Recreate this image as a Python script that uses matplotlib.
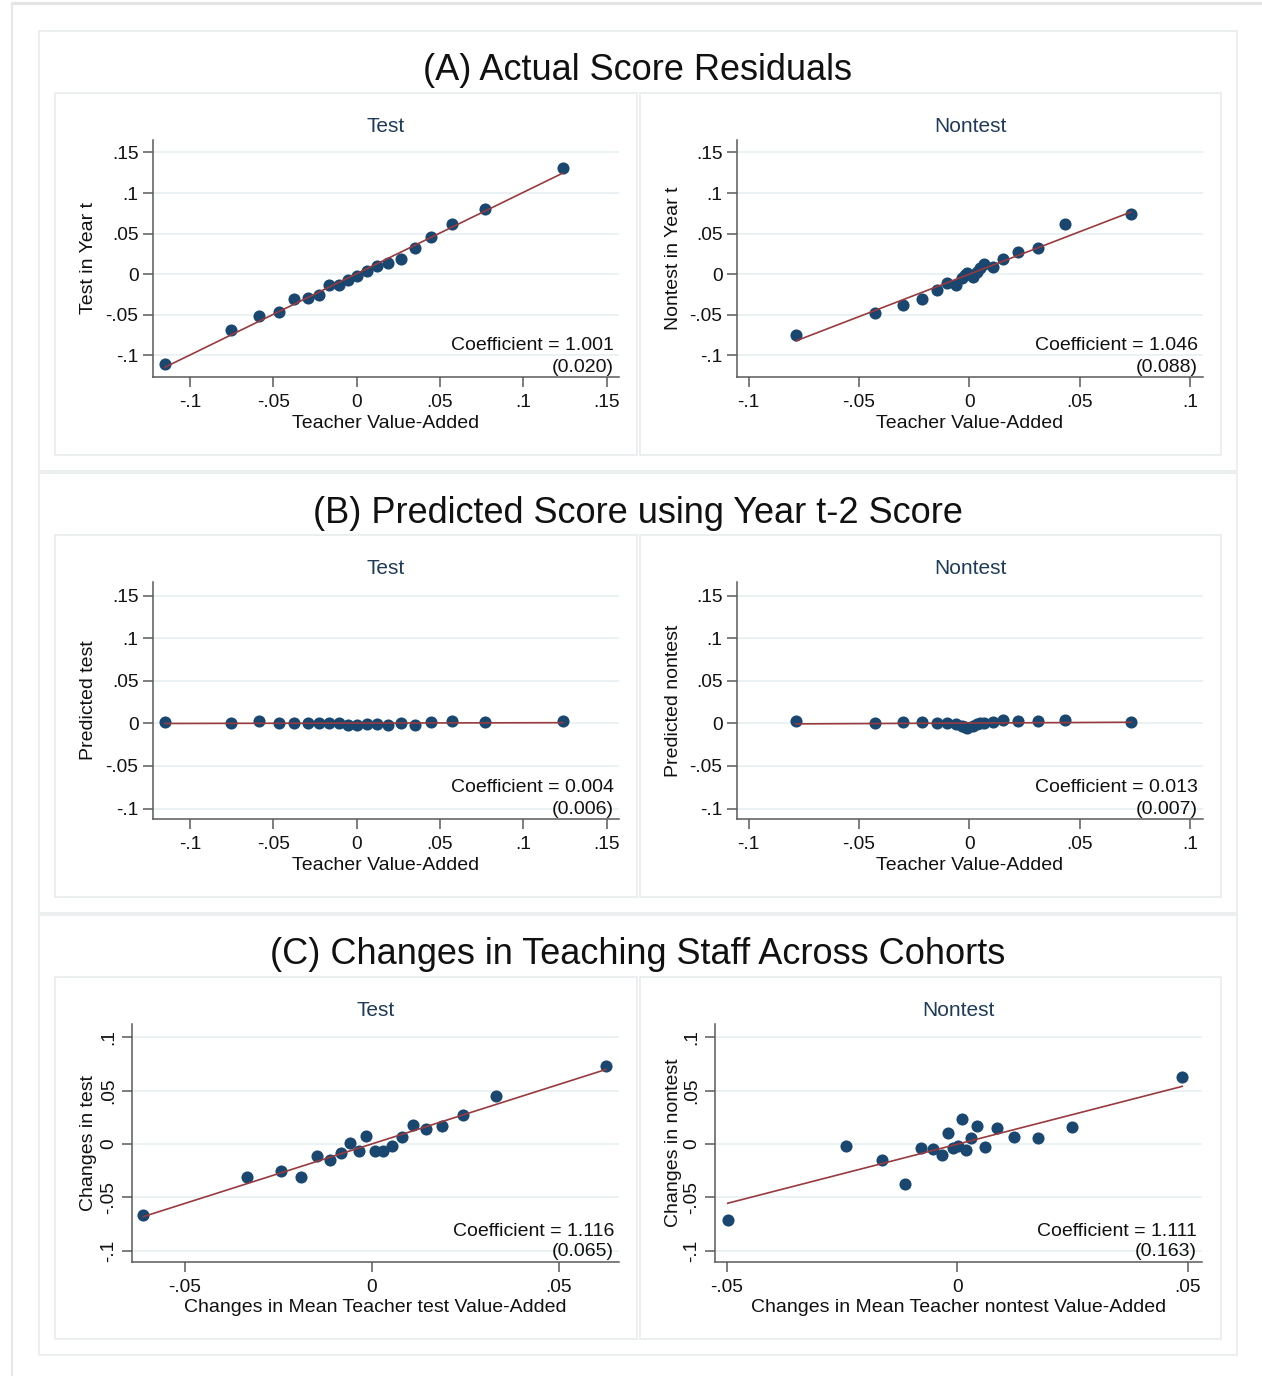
import numpy as np
import matplotlib
matplotlib.use("Agg")
import matplotlib.pyplot as plt
from matplotlib.patches import Rectangle
from matplotlib.lines import Line2D

plt.rcParams['font.family'] = ['Liberation Sans', 'DejaVu Sans']

# ---- binned teacher value-added (x) and outcomes (y) ----
va_test = [-0.1151, -0.0756, -0.0586, -0.0464, -0.0374, -0.0294, -0.0224, -0.0164,
           -0.0104, -0.0050, 0.0004, 0.0060, 0.0120, 0.0190, 0.0264, 0.0350,
           0.0446, 0.0570, 0.0770, 0.1236]
actual_test = [-0.1108, -0.0690, -0.0517, -0.0464, -0.0300, -0.0292, -0.0259, -0.0136,
               -0.0128, -0.0070, -0.0021, 0.0041, 0.0102, 0.0143, 0.0192, 0.0320,
               0.0456, 0.0619, 0.0808, 0.1309]
predicted_test = [0.0012, 0.0004, 0.0027, 0.0000, 0.0000, 0.0000, 0.0000, 0.0000,
                  0.0000, -0.0020, -0.0016, -0.0008, -0.0004, -0.0016, 0.0004, -0.0016,
                  0.0012, 0.0027, 0.0012, 0.0027]

va_nontest = [-0.0785, -0.0427, -0.0299, -0.0213, -0.0148, -0.0100, -0.0060, -0.0035,
              -0.0019, -0.0009, 0.0015, 0.0036, 0.0048, 0.0067, 0.0106, 0.0154,
              0.0221, 0.0313, 0.0433, 0.0732]
actual_nontest = [-0.0744, -0.0480, -0.0382, -0.0308, -0.0193, -0.0103, -0.0136, -0.0049,
                  -0.0009, 0.0012, -0.0029, 0.0032, 0.0074, 0.0123, 0.0094, 0.0192,
                  0.0275, 0.0324, 0.0619, 0.0746]
predicted_nontest = [0.0027, 0.0008, 0.0012, 0.0012, 0.0008, 0.0008, -0.0012, -0.0031,
                     -0.0047, -0.0059, -0.0031, -0.0012, 0.0000, 0.0008, 0.0012, 0.0039,
                     0.0027, 0.0031, 0.0039, 0.0020]

dva_test = [-0.0610, -0.0332, -0.0242, -0.0189, -0.0145, -0.0111, -0.0081, -0.0058,
            -0.0034, -0.0014, 0.0009, 0.0031, 0.0055, 0.0080, 0.0110, 0.0145,
            0.0188, 0.0243, 0.0332, 0.0626]
dscore_test = [-0.0665, -0.0306, -0.0253, -0.0309, -0.0109, -0.0147, -0.0087, 0.0012,
               -0.0066, 0.0075, -0.0066, -0.0066, -0.0019, 0.0069, 0.0178, 0.0141,
               0.0172, 0.0272, 0.0447, 0.0734]

dva_nontest = [-0.0498, -0.0241, -0.0163, -0.0113, -0.0078, -0.0052, -0.0033, -0.0021,
               -0.0009, 0.0001, 0.0010, 0.0019, 0.0030, 0.0042, 0.0061, 0.0087,
               0.0123, 0.0174, 0.0248, 0.0488]
dscore_nontest = [-0.0712, -0.0019, -0.0150, -0.0378, -0.0034, -0.0044, -0.0103, 0.0100,
                  -0.0034, -0.0019, 0.0234, -0.0056, 0.0053, 0.0169, -0.0025, 0.0153,
                  0.0063, 0.0059, 0.0162, 0.0625]

# slope estimates and standard errors
coefs = {"A_test": 1.001, "A_nontest": 1.046, "B_test": 0.004, "B_nontest": 0.013,
         "C_test": 1.116, "C_nontest": 1.111}
ses = {"A_test": 0.020, "A_nontest": 0.088, "B_test": 0.006, "B_nontest": 0.007,
       "C_test": 0.065, "C_nontest": 0.163}

section_titles = ["(A) Actual Score Residuals",
                  "(B) Predicted Score using Year t-2 Score",
                  "(C) Changes in Teaching Staff Across Cohorts"]

ticks_ab_y = [-0.1, -0.05, 0, 0.05, 0.1, 0.15]
labels_ab_y = ["-.1", "-.05", "0", ".05", ".1", ".15"]
ticks_test_x = [-0.1, -0.05, 0, 0.05, 0.1, 0.15]
labels_test_x = ["-.1", "-.05", "0", ".05", ".1", ".15"]
ticks_nontest_x = [-0.1, -0.05, 0, 0.05, 0.1]
labels_nontest_x = ["-.1", "-.05", "0", ".05", ".1"]
ticks_c_y = [-0.1, -0.05, 0, 0.05, 0.1]
labels_c_y = ["-.1", "-.05", "0", ".05", ".1"]
ticks_c_x = [-0.05, 0, 0.05]
labels_c_x = ["-.05", "0", ".05"]

NAVY = "#1a476f"
MAROON = "#983a3e"
GRID = "#e8f0f1"
AXIS = "#5a5a5a"
SUBTITLE = "#1f3b5a"
FRAME = "#ebeeee"

W, H = 1262, 1376
DPI = 100
fig = plt.figure(figsize=(W / DPI, H / DPI), dpi=DPI, facecolor="white")


def fx(px):
    return px / W


def fy(py):
    return 1 - py / H


def frame(l, t, r, b, color=FRAME, lw=1.3):
    fig.add_artist(Rectangle((fx(l), fy(b)), fx(r) - fx(l), fy(t) - fy(b),
                             transform=fig.transFigure, fill=False,
                             edgecolor=color, linewidth=lw, zorder=0))


def ftext(px, py, s, **kw):
    fig.text(fx(px), fy(py), s, **kw)


def panel(x, y, key, box, xmap, ymap, xt, xtl, yt, ytl, subtitle, xlabel,
          ylabel, ylabel_x, rotate_y=False):
    l, t, r, b = box
    x0, sx = xmap
    y0, sy = ymap
    ax = fig.add_axes([fx(l), fy(b), fx(r) - fx(l), fy(t) - fy(b)])
    ax.set_facecolor("none")
    ax.set_xlim((l - x0) / sx, (r - x0) / sx)
    ax.set_ylim((y0 - b) / sy, (y0 - t) / sy)

    xs = np.asarray(x)
    ys = np.asarray(y)
    coef = coefs[key]
    icpt = ys.mean() - coef * xs.mean()
    xl = np.array([xs.min(), xs.max()])
    ax.scatter(xs, ys, s=76, color=NAVY, linewidths=0, zorder=3)
    ax.plot(xl, icpt + coef * xl, color=MAROON, lw=1.2, zorder=4)

    ax.set_xticks(xt)
    ax.set_xticklabels(xtl)
    ax.set_yticks(yt)
    if rotate_y:
        ax.set_yticklabels(ytl, rotation=90, va="center", ha="right")
    else:
        ax.set_yticklabels(ytl)
    ax.tick_params(axis="both", length=7, width=1.1, color=AXIS,
                   labelsize=13.8, labelcolor="#111111")
    ax.tick_params(axis="x", pad=5)
    ax.tick_params(axis="y", pad=3.5)
    ax.yaxis.grid(True, color=GRID, lw=1.2)
    ax.set_axisbelow(True)
    for side in ("top", "right"):
        ax.spines[side].set_visible(False)
    for side in ("left", "bottom"):
        ax.spines[side].set_color(AXIS)
        ax.spines[side].set_linewidth(1.1)

    cx = (l + r) / 2
    ftext(cx, t - 13, subtitle, ha="center", va="center", fontsize=15,
          color=SUBTITLE)
    ftext(cx, b + 46, xlabel, ha="center", va="center", fontsize=14.0,
          color="#111111")
    ftext(ylabel_x, (t + b) / 2, ylabel, ha="center", va="center",
          rotation=90, fontsize=14.0, color="#111111")
    ftext(r - 5, b - 31, f"Coefficient = {coef:.3f}", ha="right",
          va="center", fontsize=14.0, color="#111111")
    ftext(r - 5, b - 10, f"({ses[key]:.3f})", ha="right", va="center",
          fontsize=14.0, color="#111111")
    return ax


# outer page border
fig.add_artist(Line2D([fx(12), fx(1262)], [fy(3), fy(3)], transform=fig.transFigure,
                      color="#e4e4e4", lw=2.2, zorder=0))
fig.add_artist(Line2D([fx(12), fx(12)], [fy(3), fy(1376)], transform=fig.transFigure,
                      color="#e8e8e8", lw=1.6, zorder=0))

SEC = 442
for i in range(3):
    off = i * SEC
    frame(39, 31 + off, 1237, 471 + off)
    frame(55, 93 + off, 637, 455 + off)
    frame(640, 93 + off, 1221, 455 + off)
    ftext(638, 71 + off, section_titles[i], ha="center", va="center",
          fontsize=26, color="#111111")

# (A) actual score residuals
panel(va_test, actual_test, "A_test", (153, 140, 619, 377),
      (356.7, 1666), (274.3, 812), ticks_test_x, labels_test_x,
      ticks_ab_y, labels_ab_y, "Test", "Teacher Value-Added",
      "Test in Year t", 89)
panel(va_nontest, actual_nontest, "A_nontest", (737, 140, 1203, 377),
      (969.3, 2208), (274.3, 812), ticks_nontest_x, labels_nontest_x,
      ticks_ab_y, labels_ab_y, "Nontest", "Teacher Value-Added",
      "Nontest in Year t", 673)

# (B) predicted score from year t-2
panel(va_test, predicted_test, "B_test", (153, 582, 619, 819),
      (356.7, 1666), (723.3, 852), ticks_test_x, labels_test_x,
      ticks_ab_y, labels_ab_y, "Test", "Teacher Value-Added",
      "Predicted test", 89)
panel(va_nontest, predicted_nontest, "B_nontest", (737, 582, 1203, 819),
      (969.3, 2208), (723.3, 852), ticks_nontest_x, labels_nontest_x,
      ticks_ab_y, labels_ab_y, "Nontest", "Teacher Value-Added",
      "Predicted nontest", 673)

# (C) changes in teaching staff across cohorts
panel(dva_test, dscore_test, "C_test", (132, 1024, 619, 1262),
      (371.7, 3743), (1144, 1067), ticks_c_x, labels_c_x,
      ticks_c_y, labels_c_y, "Test",
      "Changes in Mean Teacher test Value-Added", "Changes in test", 89,
      rotate_y=True)
panel(dva_nontest, dscore_nontest, "C_nontest", (715, 1024, 1202, 1262),
      (957.3, 4610), (1144, 1067), ticks_c_x, labels_c_x,
      ticks_c_y, labels_c_y, "Nontest",
      "Changes in Mean Teacher nontest Value-Added", "Changes in nontest", 673,
      rotate_y=True)

fig.savefig("out.png", dpi=DPI, facecolor="white")
